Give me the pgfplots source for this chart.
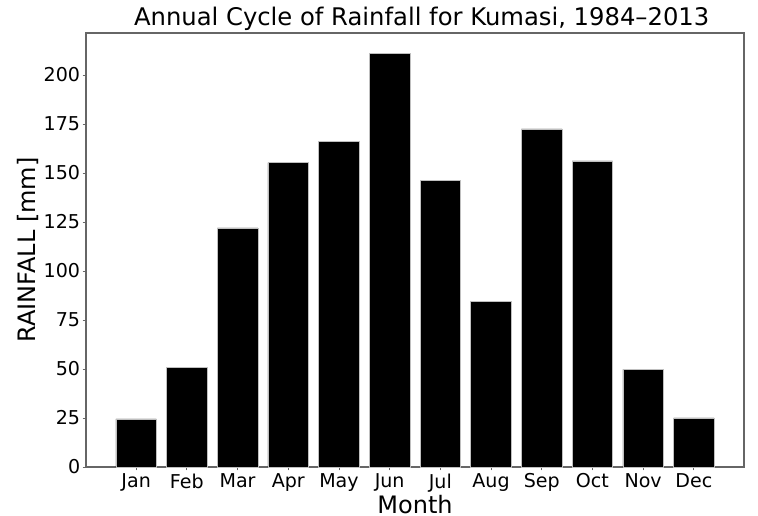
\documentclass[border=0pt]{standalone}
\usepackage{fontspec}
\setmainfont{DejaVu Sans}
\usepackage{pgfplots}
\pgfplotsset{compat=1.18}
\begin{document}
\begin{tikzpicture}[x=1pt,y=1pt]
\path[use as bounding box] (-64.5pt,-36pt) rectangle (504pt,350.25pt);
\begin{axis}[
  at={(0,0)}, anchor=south west,
  scale only axis,
  width=493.5pt, height=325.5pt,
  xmin=-0.99, xmax=11.99,
  ymin=0, ymax=221.4,
  ybar, bar width=0.8,
  /pgf/bar shift=0pt,
  xtick={0,...,11},
  xticklabels={Jan,Feb,Mar,Apr,May,Jun,Jul,Aug,Sep,Oct,Nov,Dec},
  ytick={0,25,...,200},
  /pgf/number format/assume math mode=true,
  tick label style={font=\fontsize{14.3pt}{16pt}\selectfont},
  yticklabel style={inner sep=1.5pt},
  xticklabel style={inner sep=2pt},
  label style={font=\fontsize{18pt}{20pt}\selectfont},
  title style={font=\fontsize{18.2pt}{20pt}\selectfont, yshift=-8pt, xshift=5pt},
  title={Annual Cycle of Rainfall for Kumasi, 1984--2013},
  xlabel={Month},
  ylabel={RAINFALL [mm]},
  xlabel style={yshift=0pt, inner sep=0pt, text depth=0pt},
  ylabel style={yshift=-1.5pt},
  tick align=outside,
  major tick length=2.5pt,
  xtick pos=bottom, ytick pos=left,
  axis line style={draw=black!60},
  tick style={draw=black!60, line width=0.6pt},
  every axis/.append style={line width=0.8pt},
]
\addplot[fill=black, draw=black!25, line width=0.4pt] coordinates {
(0,24.5) (1,51.0) (2,122.0) (3,155.3) (4,166.0) (5,211.0)
(6,146.2) (7,84.3) (8,172.5) (9,156.2) (10,49.8) (11,25.0)
};
\end{axis}
\end{tikzpicture}
\end{document}
